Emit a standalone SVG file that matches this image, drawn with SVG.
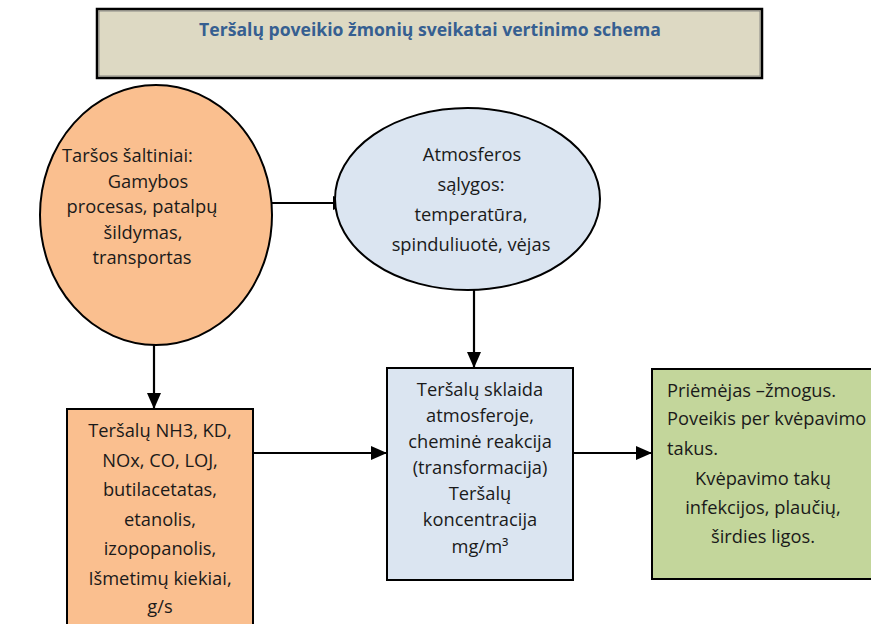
<svg xmlns="http://www.w3.org/2000/svg" width="871" height="624" viewBox="0 0 871 624">
<defs>
<style>
.t{font-family:"Open Sans","Liberation Sans",sans-serif;font-size:18.3px;fill:#1a1a1a}
.c{text-anchor:middle}
.ttl{font-family:"Open Sans","Liberation Sans",sans-serif;font-size:17.6px;font-weight:bold;fill:#365F91;text-anchor:middle}
.n{stroke:#000;stroke-width:2}
.e{fill:none;stroke:#000;stroke-width:2.2}
</style>
<marker id="a" viewBox="0 0 16 14" refX="16" refY="7" markerWidth="16" markerHeight="14" markerUnits="userSpaceOnUse" orient="auto">
<path d="M0,0 L16,7 L0,14 z" fill="#000"/>
</marker>
</defs>
<rect width="871" height="624" fill="#fff"/>
<g id="title">
<rect x="97" y="9" width="665" height="69" fill="#DDD9C3" stroke="#000" stroke-width="2.5"/>
<rect x="99" y="11" width="661" height="65" fill="none" stroke="#777" stroke-width="0.8"/>
<text class="ttl" x="430" y="36">Teršalų poveikio žmonių sveikatai vertinimo schema</text>
</g>
<g id="connectors">
<line class="e" x1="272" y1="203" x2="349" y2="203" marker-end="url(#a)"/>
<line class="e" x1="474" y1="290" x2="474" y2="368" marker-end="url(#a)"/>
<line class="e" x1="154" y1="345" x2="154" y2="409" marker-end="url(#a)"/>
<line class="e" x1="253" y1="453" x2="387" y2="453" marker-end="url(#a)"/>
<line class="e" x1="573" y1="453" x2="652" y2="453" marker-end="url(#a)"/>
</g>
<g id="sources">
<ellipse class="n" cx="156" cy="215" rx="116" ry="130" fill="#FABF8F"/>
<text class="t" x="62" y="162">Taršos šaltiniai:</text>
<text class="t c" x="148" y="188">Gamybos</text>
<text class="t c" x="142" y="213">procesas, patalpų</text>
<text class="t c" x="143" y="239">šildymas,</text>
<text class="t c" x="142" y="264">transportas</text>
</g>
<g id="atmosphere">
<ellipse class="n" cx="467.5" cy="199" rx="132.5" ry="91" fill="#DBE5F1"/>
<text class="t c" x="472" y="161">Atmosferos</text>
<text class="t c" x="471" y="191">sąlygos:</text>
<text class="t c" x="471" y="221">temperatūra,</text>
<text class="t c" x="471" y="251">spinduliuotė, vėjas</text>
</g>
<g id="pollutants">
<rect class="n" x="67" y="409" width="186" height="230" fill="#FABF8F"/>
<text class="t c" x="160" y="437">Teršalų NH3, KD,</text>
<text class="t c" x="160" y="467">NOx, CO, LOJ,</text>
<text class="t c" x="160" y="496">butilacetatas,</text>
<text class="t c" x="160" y="526">etanolis,</text>
<text class="t c" x="160" y="555">izopopanolis,</text>
<text class="t c" x="160" y="585">Išmetimų kiekiai,</text>
<text class="t c" x="160" y="613">g/s</text>
</g>
<g id="dispersion">
<rect class="n" x="387" y="368" width="186" height="212" fill="#DBE5F1"/>
<text class="t c" x="480" y="396">Teršalų sklaida</text>
<text class="t c" x="480" y="422">atmosferoje,</text>
<text class="t c" x="480" y="448">cheminė reakcija</text>
<text class="t c" x="480" y="474">(transformacija)</text>
<text class="t c" x="480" y="500">Teršalų</text>
<text class="t c" x="480" y="526">koncentracija</text>
<text class="t c" x="480" y="553">mg/m³</text>
</g>
<g id="receptor">
<rect class="n" x="652" y="369" width="225" height="210" fill="#C3D69B"/>
<text class="t" x="667" y="397">Priėmėjas –žmogus.</text>
<text class="t" x="667" y="425">Poveikis per kvėpavimo</text>
<text class="t" x="667" y="455">takus.</text>
<text class="t c" x="763" y="485">Kvėpavimo takų</text>
<text class="t c" x="763" y="514">infekcijos, plaučių,</text>
<text class="t c" x="763" y="543">širdies ligos.</text>
</g>
</svg>
